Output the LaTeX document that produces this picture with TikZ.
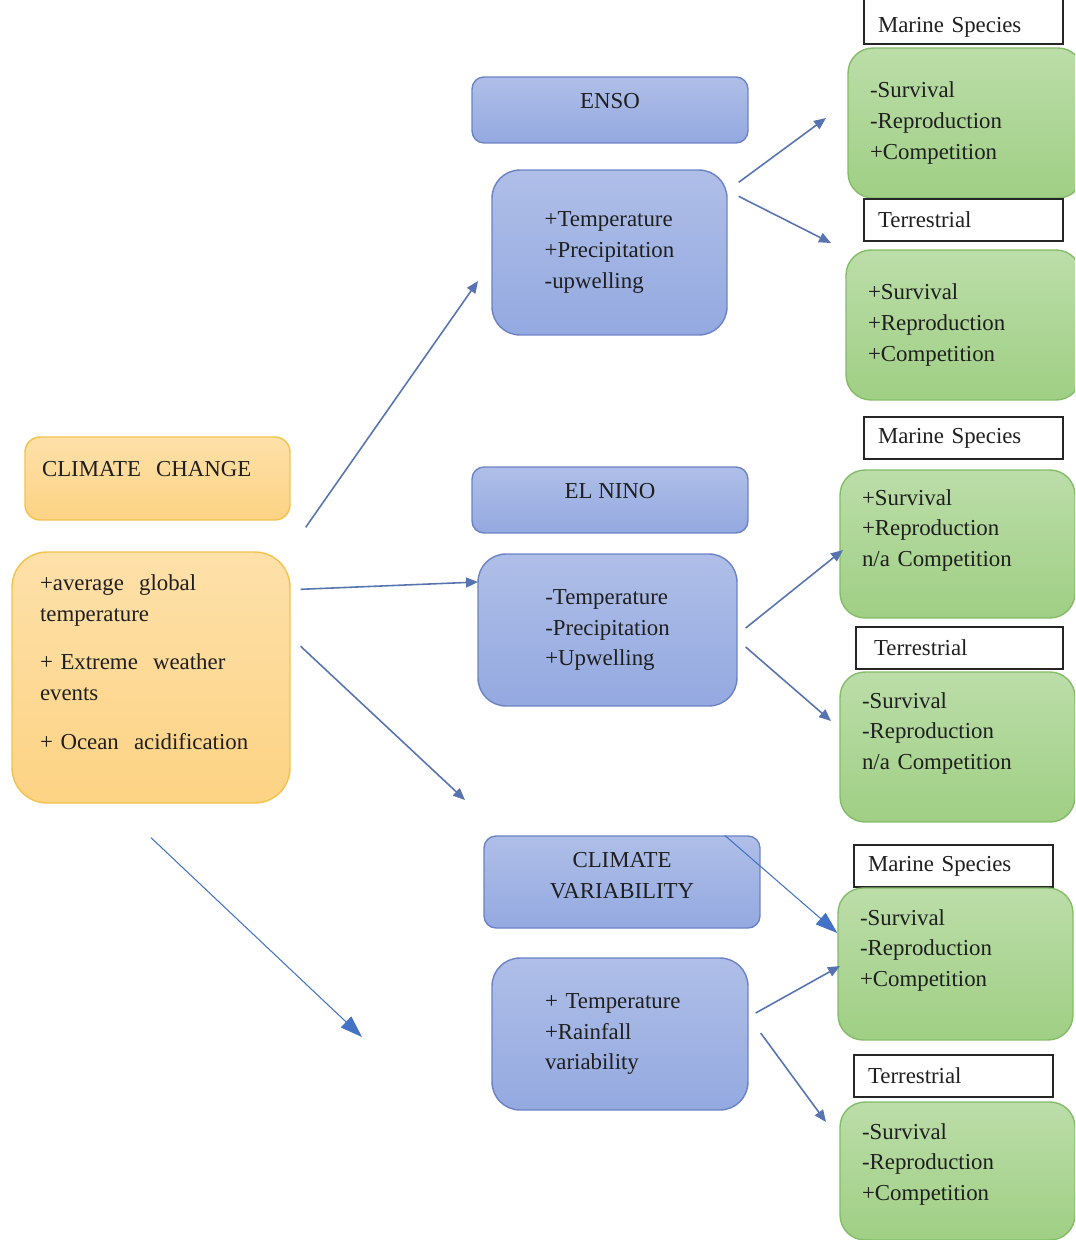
\documentclass[tikz,border=0pt]{standalone}
\usepackage{fontspec}
\setmainfont{Liberation Serif}
\usetikzlibrary{arrows.meta}
\definecolor{ccfill}{HTML}{FDD384}
\definecolor{ccedge}{HTML}{F2C24C}
\definecolor{blufill}{HTML}{94A9E0}
\definecolor{bluedge}{HTML}{6B83C4}
\definecolor{grnfill}{HTML}{9FCF84}
\definecolor{grnedge}{HTML}{84BC69}
\definecolor{linkcol}{HTML}{5874B0}
\definecolor{arrowblue}{HTML}{4472C4}

\begin{document}
\begin{tikzpicture}[x=0.02cm, y=-0.02cm,
   every node/.style={font=\fontsize{13}{17.5}\selectfont, text=black!88},
   cause/.style={draw=ccedge, line width=0.8pt, top color=ccfill!70!white, bottom color=ccfill, align=left},
   driver/.style={draw=bluedge, line width=0.8pt, top color=blufill!75!white, bottom color=blufill, rounded corners=0.24cm, minimum width=5.52cm, align=center},
   effect/.style={draw=bluedge, line width=0.8pt, top color=blufill!75!white, bottom color=blufill, rounded corners=0.56cm, align=left},
   impact/.style={draw=grnedge, line width=0.8pt, top color=grnfill!70!white, bottom color=grnfill, rounded corners=0.5cm, minimum width=4.7cm, inner xsep=0.44cm, text width=3.82cm, align=left},
   tag/.style={draw=black!85, fill=white, line width=0.7pt, minimum height=0.84cm, inner xsep=0.28cm, text width=3.42cm, align=left},
   link/.style={draw=linkcol, line width=0.9pt, -{Triangle[length=2.4mm, width=2mm]}},
   longlink/.style={draw=arrowblue, line width=0.6pt, -{Triangle[length=4.4mm, width=3mm]}}]

\clip (0,0) rectangle (1075,1240);

\node[cause, rounded corners=0.3cm, minimum width=5.3cm, minimum height=1.66cm, inner xsep=0.34cm, text width=4.62cm, text depth=0.4cm] (cctitle) at (157.5,478.5) {CLIMATE\ \ CHANGE};
\node[cause, rounded corners=0.7cm, minimum width=5.56cm, minimum height=5.02cm, inner xsep=0.56cm, text width=4.44cm, text depth=3.8cm] (ccbody) at (151,677.5)
   {+average\ \ global\\temperature\\[0.36cm]+ Extreme\ \ weather\\events\\[0.36cm]+ Ocean\ \ acidification};

\node[driver, minimum height=1.32cm, text depth=0.36cm] (enso) at (610,110) {ENSO};
\node[effect, minimum width=4.7cm, minimum height=3.3cm] (ensobody) at (609.5,252.5) {+Temperature\\+Precipitation\\-upwelling};
\node[driver, minimum height=1.32cm, text depth=0.36cm] (nino) at (610,500) {EL NINO};
\node[effect, minimum width=5.18cm, minimum height=3.04cm] (ninobody) at (607.5,630) {-Temperature\\-Precipitation\\+Upwelling};
\node[driver, minimum height=1.84cm, text depth=0.26cm] (cv) at (622,882) {CLIMATE\\VARIABILITY};
\node[effect, minimum width=5.12cm, minimum height=3.04cm, text width=3cm] (cvbody) at (620,1034) {+ Temperature\\+Rainfall\\variability};

\node[tag, minimum height=0.98cm, text height=0.63cm] (marine1) at (963.5,19.5) {Marine Species};
\node[impact, minimum height=3cm] (ensomarine) at (965.5,123) {-Survival\\-Reproduction\\+Competition};
\node[tag] (terr1) at (963.5,220) {Terrestrial};
\node[impact, minimum height=3cm] (ensoterr) at (963.5,325) {+Survival\\+Reproduction\\+Competition};
\node[tag] (marine2) at (963.5,438) {Marine Species};
\node[impact, minimum height=2.96cm, text depth=1.87cm] (ninomarine) at (957.5,544) {+Survival\\+Reproduction\\n/a Competition};
\node[tag, minimum width=4.14cm] (terr2) at (959.5,648) {Terrestrial};
\node[impact, minimum height=3cm, text depth=1.87cm] (ninoterr) at (957.5,747) {-Survival\\-Reproduction\\n/a Competition};
\node[tag] (marine3) at (953.5,866) {Marine Species};
\node[impact, minimum height=3.04cm, text depth=1.87cm] (cvmarine) at (955.5,964) {-Survival\\-Reproduction\\+Competition};
\node[tag] (terr3) at (953.5,1076) {Terrestrial};
\node[impact, minimum height=2.76cm, text depth=1.59cm] (cvterr) at (957.5,1171) {-Survival\\-Reproduction\\+Competition};

\coordinate (toenso) at (478,281);
\coordinate (tonino) at (478,582);
\coordinate (tocv) at (465,800);
\coordinate (tolow) at (362,1037);
\coordinate (ensoup) at (826,118);
\coordinate (ensodown) at (831,243);
\coordinate (ninoup) at (843,550);
\coordinate (ninodown) at (831,721);
\coordinate (cvup) at (840,966);
\coordinate (cvdown) at (826,1122);

\draw[link] ([xshift=0.3cm, yshift=0.48cm]ccbody.north east) -- (toenso);
\draw[link] ([xshift=0.2cm, yshift=-0.76cm]ccbody.north east) -- (tonino);
\draw[link] ([xshift=0.2cm, yshift=-1.9cm]ccbody.north east) -- (tocv);
\draw[longlink] ([yshift=-0.68cm]ccbody.south) -- (tolow);
\draw[longlink] ([xshift=-0.72cm]cv.north east) -- ([yshift=0.62cm]cvmarine.west);
\draw[link] ([xshift=0.22cm, yshift=-0.26cm]ensobody.north east) -- (ensoup);
\draw[link] ([xshift=0.22cm, yshift=-0.54cm]ensobody.north east) -- (ensodown);
\draw[link] ([xshift=0.16cm, yshift=0.04cm]ninobody.east) -- (ninoup);
\draw[link] ([xshift=0.16cm, yshift=-0.34cm]ninobody.east) -- (ninodown);
\draw[link] ([xshift=0.14cm, yshift=0.42cm]cvbody.east) -- (cvup);
\draw[link] ([xshift=0.24cm, yshift=0.02cm]cvbody.east) -- (cvdown);

\end{tikzpicture}
\end{document}
